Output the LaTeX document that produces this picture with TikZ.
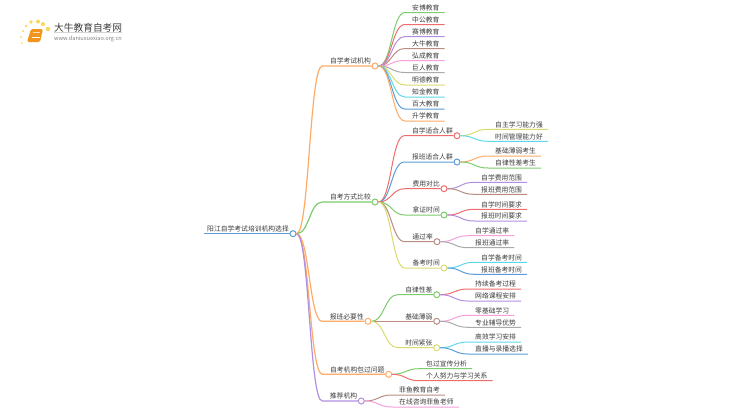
\documentclass[tikz,border=0pt]{standalone}
\usepackage{fontspec}
\setmainfont{Noto Sans CJK SC}
\usetikzlibrary{calc}
\definecolor{leafgreen}{RGB}{124,204,110}
\definecolor{leafred}{RGB}{240,108,108}
\definecolor{leafpurple}{RGB}{178,143,224}
\definecolor{leafbrown}{RGB}{186,140,130}
\definecolor{leafpink}{RGB}{243,160,220}
\definecolor{leafgray}{RGB}{170,170,170}
\definecolor{leafyellow}{RGB}{218,218,112}
\definecolor{leafcyan}{RGB}{94,216,232}
\definecolor{leafblue}{RGB}{91,156,214}
\definecolor{leaforange}{RGB}{255,170,102}
\definecolor{darktext}{RGB}{60,60,60}
\definecolor{bookorange}{RGB}{240,150,30}
\newcommand{\branch}[4][1]{\draw[#2,line width=#1pt] let \p1=(#3.east),\p2=(#4.south west),\n1={0.5*(\x1+\x2-4pt)} in (\p1) .. controls (\n1,\y1) and (\n1,\y2) .. (\x2-4pt,\y2) -- (#4.south east);}
\begin{document}
\begin{tikzpicture}[
  x=1pt,y=-1pt,
  font=\fontsize{6.8}{8}\selectfont,
  leaf/.style={text=darktext,inner xsep=3pt,inner ysep=1pt,text height=6pt,text depth=1pt,anchor=south west,execute at end node=\kern2pt},
  topic/.style={text=darktext,inner xsep=.5pt,inner ysep=1pt,text height=6pt,text depth=1pt,anchor=south east,execute at begin node=\kern3pt},
  knob/.style={circle,draw=#1,fill=white,line width=1pt,inner sep=0pt,minimum size=6pt}
]
\useasboundingbox (0,0) rectangle (750,410);
% logo
\foreach \dx/\dy/\rr in {31/22/1.8,38/21.5/2,43/24/2,48/29/2.2,26/26/1.4,23/31/1.1,21/37/1,22/43/.8} {
  \fill[bookorange!55!yellow,opacity=.7] (\dx,\dy) circle (\rr);
}
\fill[bookorange,rounded corners=1.5pt] (31,29) -- (43,29) -- (40,42) -- (27,42) -- cycle;
\draw[white,line width=.5pt] (32,37.5) -- (39.5,37.5);
\draw[white!70!bookorange,line width=.5pt] (33,32) -- (40,32);
\node[anchor=west,inner sep=0pt,text=darktext,font=\fontsize{9.7}{11}\selectfont] (brand) at (54,27.5) {大牛教育自考网};
\node[anchor=west,inner sep=0pt,text=gray,font=\fontsize{5.6}{6}\selectfont] (site) at (54,39) {www.daniuxuexiao.org.cn};
\draw[leafgray!50,line width=.4pt] (brand.south west) -- (brand.south east);
% root
\node[knob=leafblue] (root) at (293,233.7) {};
\node[topic] (roottext) at (root.west) {阳江自学考试培训机构选择};
\draw[leafblue,line width=1.5pt] (roottext.south west) -- (roottext.south east);
% first level
\node[knob=leaforange] (schools) at (375,66) {};
\node[topic] (schoolstext) at (schools.west) {自学考试机构};
\node[knob=leafgreen] (compare) at (375,202) {};
\node[topic] (comparetext) at (compare.west) {自考方式比较};
\node[knob=leaforange] (need) at (368,321.3) {};
\node[topic] (needtext) at (need.west) {报班必要性};
\node[knob=leaforange] (pass) at (388.7,374.3) {};
\node[topic] (passtext) at (pass.west) {自考机构包过问题};
\node[knob=leafpurple] (recommend) at (361.3,401) {};
\node[topic] (recommendtext) at (recommend.west) {推荐机构};
\branch[1.2]{leaforange}{root}{schoolstext}
\branch[1.2]{leafgreen}{root}{comparetext}
\branch[1.2]{leaforange}{root}{needtext}
\branch[1.2]{leaforange}{root}{passtext}
\branch[1.2]{leafpurple}{root}{recommendtext}
% schools
\node[leaf] (anbo) at (409,12.5) {安博教育};
\node[leaf] (zhonggong) at (409,24.5) {中公教育};
\node[leaf] (saibo) at (409,36.5) {赛博教育};
\node[leaf] (daniu) at (409,48.5) {大牛教育};
\node[leaf] (hongcheng) at (409,60.5) {弘成教育};
\node[leaf] (juren) at (409,72.5) {巨人教育};
\node[leaf] (mingde) at (409,85) {明德教育};
\node[leaf] (zhijin) at (409,97) {知金教育};
\node[leaf] (baida) at (409,109) {百大教育};
\node[leaf] (shengxue) at (409,121) {升学教育};
\branch{leafgreen}{schools}{anbo}
\branch{leafred}{schools}{zhonggong}
\branch{leafpurple}{schools}{saibo}
\branch{leafbrown}{schools}{daniu}
\branch{leafpink}{schools}{hongcheng}
\branch{leafgray}{schools}{juren}
\branch{leafyellow}{schools}{mingde}
\branch{leafcyan}{schools}{zhijin}
\branch{leafblue}{schools}{baida}
\branch{leaforange}{schools}{shengxue}
% compare
\node[knob=leafred] (fitself) at (457,135.7) {};
\node[topic] (fitselftext) at (fitself.west) {自学适合人群};
\node[knob=leafblue] (fitclass) at (457,162) {};
\node[topic] (fitclasstext) at (fitclass.west) {报班适合人群};
\node[knob=leafred] (cost) at (444,188.7) {};
\node[topic] (costtext) at (cost.west) {费用对比};
\node[knob=leafgreen] (cert) at (444,215) {};
\node[topic] (certtext) at (cert.west) {拿证时间};
\node[knob=leafbrown] (rate) at (437,241.7) {};
\node[topic] (ratetext) at (rate.west) {通过率};
\node[knob=leafyellow] (prep) at (444,268) {};
\node[topic] (preptext) at (prep.west) {备考时间};
\branch{leafred}{compare}{fitselftext}
\branch{leafblue}{compare}{fitclasstext}
\branch{leafred}{compare}{costtext}
\branch{leafgreen}{compare}{certtext}
\branch{leafbrown}{compare}{ratetext}
\branch{leafyellow}{compare}{preptext}
\node[leaf] (study) at (492,129.3) {自主学习能力强};
\node[leaf] (manage) at (492,141.3) {时间管理能力好};
\node[leaf] (weak) at (492,156) {基础薄弱考生};
\node[leaf] (lax) at (492,168) {自律性差考生};
\node[leaf] (costself) at (478,182.3) {自学费用范围};
\node[leaf] (costclass) at (478,194.3) {报班费用范围};
\node[leaf] (certself) at (478,209.3) {自学时间要求};
\node[leaf] (certclass) at (478,221) {报班时间要求};
\node[leaf] (rateself) at (472,235.7) {自学通过率};
\node[leaf] (rateclass) at (472,247.7) {报班通过率};
\node[leaf] (prepself) at (478,262.3) {自学备考时间};
\node[leaf] (prepclass) at (478,274.3) {报班备考时间};
\branch{leafyellow}{fitself}{study}
\branch{leafcyan}{fitself}{manage}
\branch{leaforange}{fitclass}{weak}
\branch{leafgreen}{fitclass}{lax}
\branch{leafpurple}{cost}{costself}
\branch{leafbrown}{cost}{costclass}
\branch{leafred}{cert}{certself}
\branch{leafpurple}{cert}{certclass}
\branch{leafpink}{rate}{rateself}
\branch{leafgray}{rate}{rateclass}
\branch{leafcyan}{prep}{prepself}
\branch{leafblue}{prep}{prepclass}
% need
\node[knob=leafgreen] (discipline) at (436.7,294.7) {};
\node[topic] (disciplinetext) at (discipline.west) {自律性差};
\node[knob=leafbrown] (basis) at (436.7,321.3) {};
\node[topic] (basistext) at (basis.west) {基础薄弱};
\node[knob=leafyellow] (tight) at (436.7,347.7) {};
\node[topic] (tighttext) at (tight.west) {时间紧张};
\branch{leafgreen}{need}{disciplinetext}
\branch{leafbrown}{need}{basistext}
\branch{leafyellow}{need}{tighttext}
\node[leaf] (steady) at (472,289) {持续备考过程};
\node[leaf] (online) at (472,301) {网络课程安排};
\node[leaf] (zero) at (472,315.3) {零基础学习};
\node[leaf] (tutor) at (472,327.3) {专业辅导优势};
\node[leaf] (plan) at (472,342) {高效学习安排};
\node[leaf] (live) at (472,354) {直播与录播选择};
\branch{leafred}{discipline}{steady}
\branch{leafpurple}{discipline}{online}
\branch{leafpink}{basis}{zero}
\branch{leafgray}{basis}{tutor}
\branch{leafcyan}{tight}{plan}
\branch{leafblue}{tight}{live}
% pass, recommend
\node[leaf] (claim) at (423,368.7) {包过宣传分析};
\node[leaf] (effort) at (423,380.7) {个人努力与学习关系};
\node[leaf] (feiyu) at (396,395) {菲鱼教育自考};
\node[leaf] (consult) at (396,407) {在线咨询菲鱼老师};
\branch{leafgreen}{pass}{claim}
\branch{leafred}{pass}{effort}
\branch{leafbrown}{recommend}{feiyu}
\branch{leafpink}{recommend}{consult}
\end{tikzpicture}
\end{document}
